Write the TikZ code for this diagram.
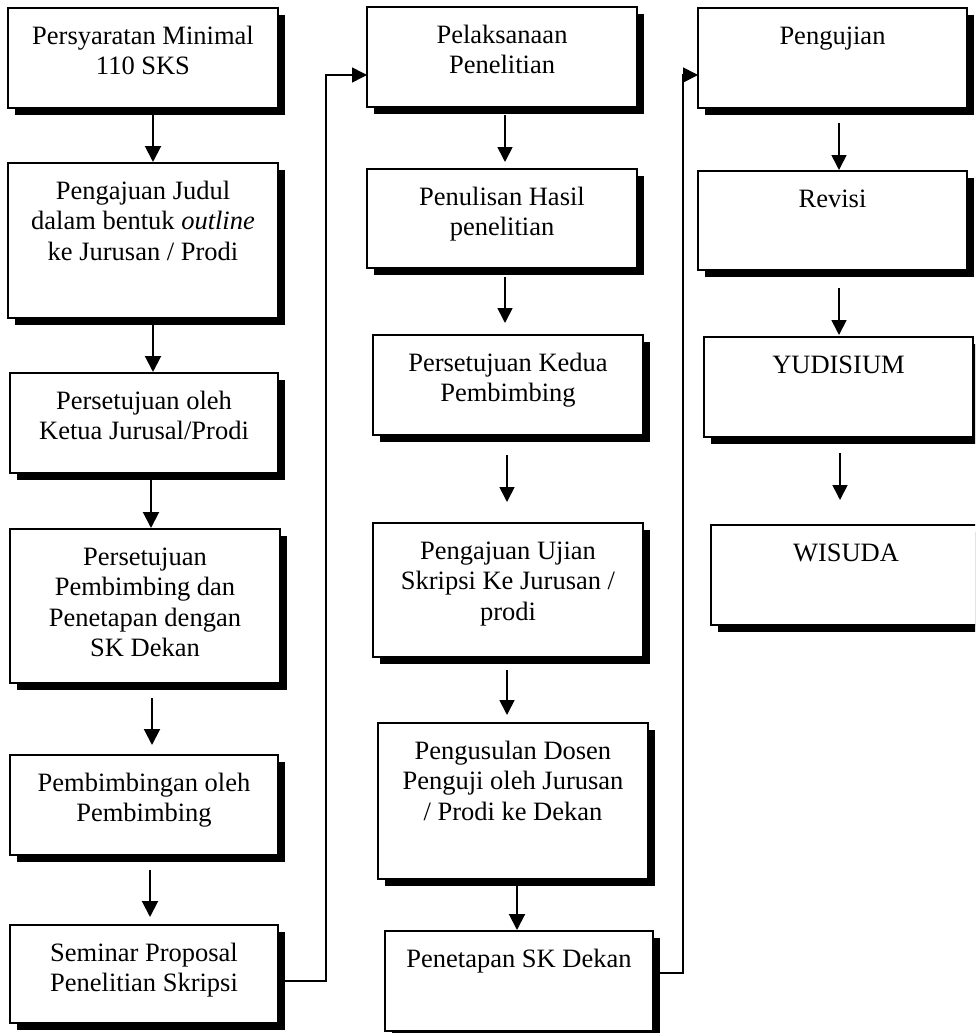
\documentclass[tikz,border=0pt]{standalone}
\usepackage{fontspec}
\setmainfont{Liberation Serif}
\usetikzlibrary{arrows.meta,shadows}
\newcommand\bx[6]{\node[boxst] (#1) at (#2,#3) {\parbox[c][#5pt][t]{#4pt}{\centering\rule{0pt}{36pt}#6}};}
\begin{document}
\begin{tikzpicture}[x=1pt,y=-1pt,
  boxst/.style={draw, line width=1.5pt, fill=white, inner sep=0pt, outer sep=0pt, anchor=north west,
    font=\fontsize{26.5}{30.5}\selectfont,
    drop shadow={shadow xshift=7pt, shadow yshift=-7pt, fill=black, opacity=1}},
  arr/.style={line width=2pt, -{Triangle[length=16pt,width=16pt]}},
  arrb/.style={line width=1.7pt, -{Triangle[length=15pt,width=15pt]}},
  conn/.style={line width=1.6pt, -{Triangle[length=15pt,width=15pt]}}]
\useasboundingbox (0,0) rectangle (975,1033);
\clip (0,0) rectangle (975,1033);
% column 1
\bx{b1}{8}{8}{270}{100}{Persyaratan Minimal\\110 SKS}
\bx{b2}{8}{163}{270}{155}{Pengajuan Judul\\dalam bentuk \textit{outline}\\ke Jurusan / Prodi}
\bx{b3}{10}{373}{268}{100}{Persetujuan oleh\\Ketua Jurusal/Prodi}
\bx{b4}{10}{529}{270}{154}{Persetujuan\\Pembimbing dan\\Penetapan dengan\\SK Dekan}
\bx{b5}{10}{755}{268}{100}{Pembimbingan oleh\\Pembimbing}
\bx{b6}{10}{925}{268}{98}{Seminar Proposal\\Penelitian Skripsi}
% column 2
\bx{b7}{367}{7}{270}{100}{Pelaksanaan\\Penelitian}
\bx{b8}{367}{169}{270}{99}{Penulisan Hasil\\penelitian}
\bx{b9}{373}{335}{270}{100}{Persetujuan Kedua\\Pembimbing}
\bx{b10}{373}{523}{270}{134}{Pengajuan Ujian\\Skripsi Ke Jurusan /\\prodi}
\bx{b11}{378}{723}{270}{156}{Pengusulan Dosen\\Penguji oleh Jurusan\\/ Prodi ke Dekan}
\bx{b12}{385}{931}{268}{100}{Penetapan SK Dekan}
% column 3
\bx{b13}{698}{8}{269}{100}{Pengujian}
\bx{b14}{698}{171}{269}{99}{Revisi}
\bx{b15}{704}{337}{269}{100}{YUDISIUM}
\bx{b16}{711}{525}{270}{100}{WISUDA}
% arrows column 1
\draw[arr] ([xshift=10pt,yshift=-7pt]b1.south) -- ([xshift=10pt,yshift=1pt]b2.north);
\draw[arr] ([xshift=10pt,yshift=-7pt]b2.south) -- ([xshift=9pt,yshift=1pt]b3.north);
\draw[arr] ([xshift=7pt,yshift=-7pt]b3.south) -- ([xshift=6pt,yshift=1pt]b4.north);
\draw[arr] ([xshift=7pt,yshift=-15pt]b4.south) -- ([xshift=8pt,yshift=10pt]b5.north);
\draw[arr] ([xshift=6pt,yshift=-15pt]b5.south) -- ([xshift=6pt,yshift=8pt]b6.north);
% arrows column 2
\draw[arrb] ([xshift=3pt,yshift=-8pt]b7.south) -- ([xshift=3pt,yshift=7pt]b8.north);
\draw[arrb] ([xshift=3pt,yshift=-9pt]b8.south) -- ([xshift=-3pt,yshift=12pt]b9.north);
\draw[arrb] ([xshift=-1pt,yshift=-20pt]b9.south) -- ([xshift=-1pt,yshift=21pt]b10.north);
\draw[arrb] ([xshift=-1pt,yshift=-13pt]b10.south) -- ([xshift=-6pt,yshift=8pt]b11.north);
\draw[arr] ([xshift=4pt,yshift=-6pt]b11.south) -- ([xshift=-2pt,yshift=1pt]b12.north);
% arrows column 3
\draw[arrb] ([xshift=6.5pt,yshift=-15pt]b13.south) -- ([xshift=6.5pt,yshift=1pt]b14.north);
\draw[arrb] ([xshift=6.5pt,yshift=-18pt]b14.south) -- ([xshift=0.5pt,yshift=2pt]b15.north);
\draw[arrb] ([xshift=1.5pt,yshift=-16pt]b15.south) -- ([xshift=-6pt,yshift=25pt]b16.north);
% long connectors
\draw[conn] ([yshift=-7pt]b6.east) -- ++(48,0) |- ([yshift=-18pt]b7.west);
\draw[conn] ([yshift=8pt]b12.east) -- ++(30,0) |- ([yshift=-17pt]b13.west);
\end{tikzpicture}
\end{document}
